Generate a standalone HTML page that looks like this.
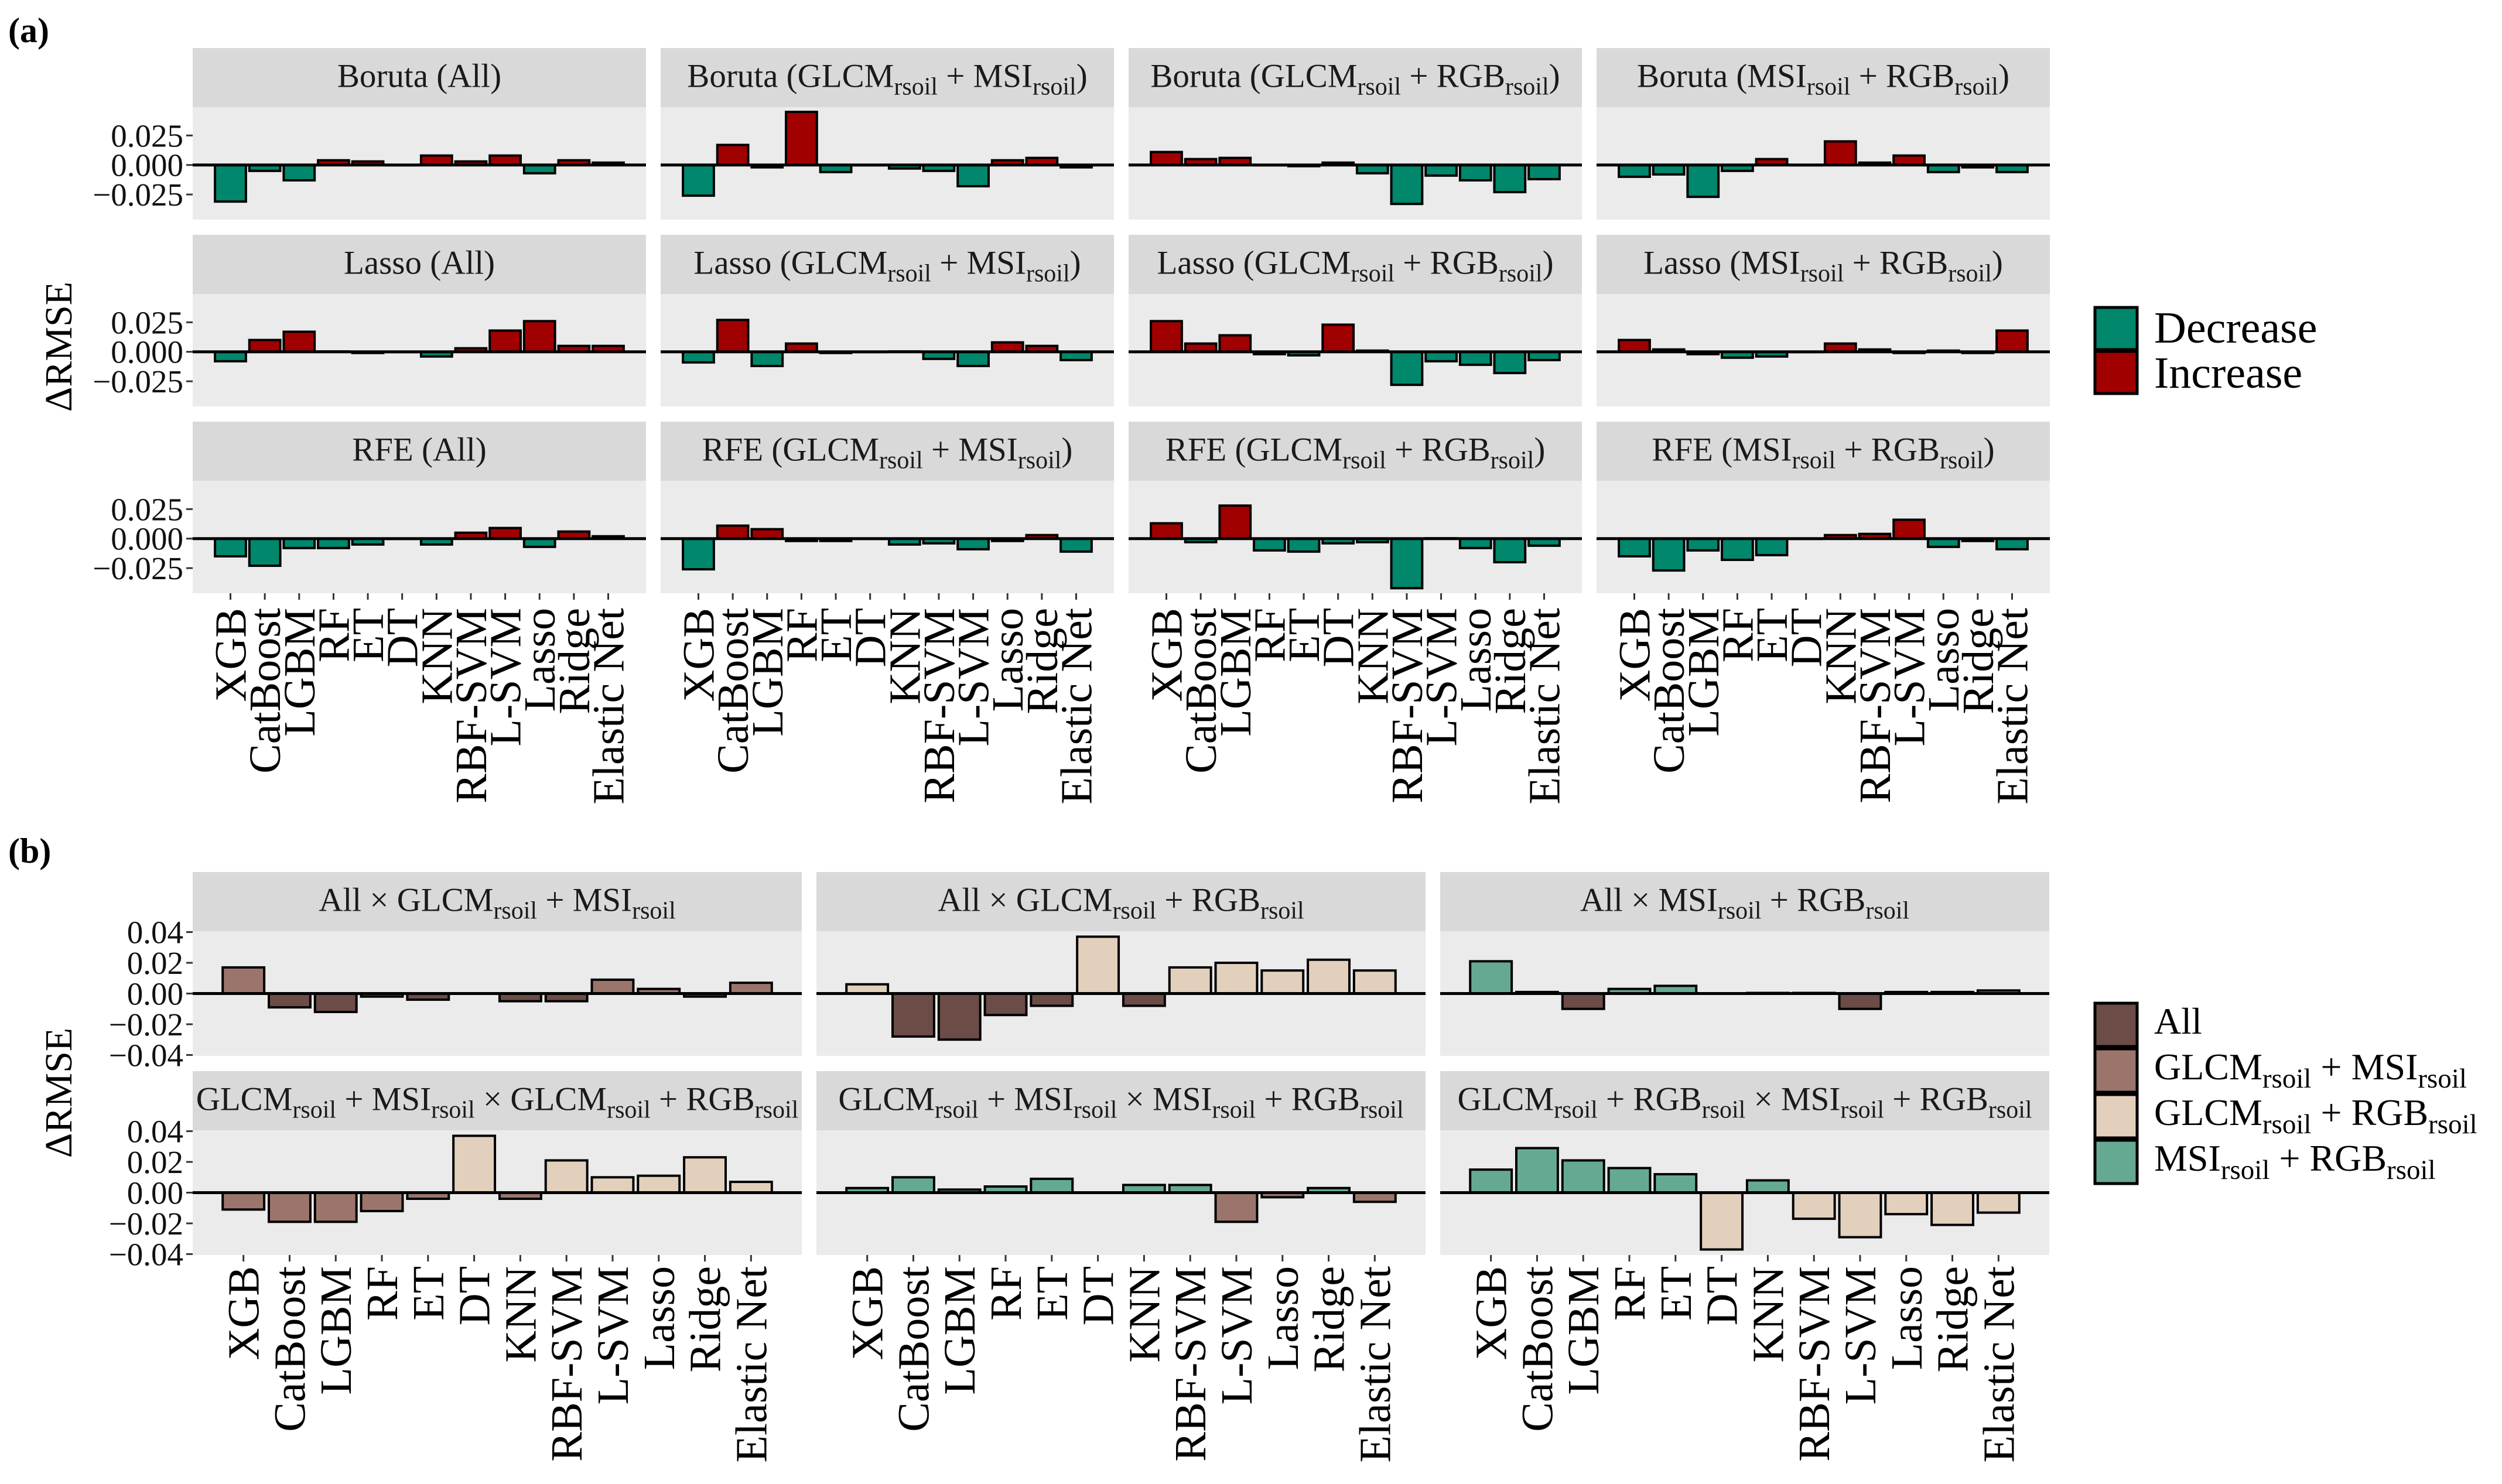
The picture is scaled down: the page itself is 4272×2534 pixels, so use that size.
<!DOCTYPE html>
<html><head><meta charset="utf-8">
<style>
html,body{margin:0;padding:0;background:#fff;}
svg{display:block;font-family:"Liberation Serif",serif;}
</style></head>
<body>
<svg id="fig" xmlns="http://www.w3.org/2000/svg" width="4272" height="2534" viewBox="0 0 4272 2534">
<rect width="4272" height="2534" fill="#fff"/>
<text x="14" y="72" font-size="60" font-weight="bold">(a)</text>
<text x="14" y="1473" font-size="60" font-weight="bold">(b)</text>
<text transform="translate(122,592) rotate(-90)" text-anchor="middle" font-size="66">ΔRMSE</text>
<text transform="translate(122,1866) rotate(-90)" text-anchor="middle" font-size="66">ΔRMSE</text>
<g id="legA">
<rect x="3577" y="525" width="72" height="72" fill="#00876c" stroke="#000" stroke-width="5"/>
<rect x="3577" y="600" width="72" height="72" fill="#a00000" stroke="#000" stroke-width="5"/>
<text x="3678" y="585" font-size="76">Decrease</text>
<text x="3678" y="662" font-size="76">Increase</text>
</g>
<g id="legB"></g>
<g id="chart"></g>
</svg>
<script>
const NS = "http://www.w3.org/2000/svg";
const categories = ["XGB","CatBoost","LGBM","RF","ET","DT","KNN","RBF-SVM","L-SVM","Lasso","Ridge","Elastic Net"];

// Panel (a) values
const borutaAll     = [-0.031,-0.005,-0.013,0.004,0.003,0,0.008,0.003,0.008,-0.007,0.004,0.002];
const borutaGlcmMsi = [-0.026,0.017,-0.002,0.045,-0.006,0,-0.003,-0.005,-0.018,0.004,0.006,-0.002];
const borutaGlcmRgb = [0.011,0.005,0.006,0,-0.001,0.002,-0.007,-0.033,-0.009,-0.013,-0.023,-0.012];
const borutaMsiRgb  = [-0.010,-0.008,-0.027,-0.005,0.005,0,0.020,0.002,0.008,-0.006,-0.002,-0.006];
const lassoAll      = [-0.008,0.010,0.017,0.0003,-0.001,0,-0.004,0.003,0.018,0.026,0.005,0.005];
const lassoGlcmMsi  = [-0.009,0.027,-0.012,0.007,-0.001,0,0.0003,-0.006,-0.012,0.008,0.005,-0.007];
const lassoGlcmRgb  = [0.026,0.007,0.014,-0.002,-0.003,0.023,0.001,-0.028,-0.008,-0.011,-0.018,-0.007];
const lassoMsiRgb   = [0.010,0.002,-0.002,-0.005,-0.004,0,0.007,0.002,-0.001,0.001,-0.001,0.018];
const rfeAll        = [-0.015,-0.023,-0.008,-0.008,-0.005,0,-0.005,0.005,0.009,-0.007,0.006,0.002];
const rfeGlcmMsi    = [-0.026,0.011,0.008,-0.002,-0.002,0,-0.005,-0.004,-0.009,-0.002,0.003,-0.011];
const rfeGlcmRgb    = [0.013,-0.003,0.028,-0.010,-0.011,-0.004,-0.003,-0.042,0.0003,-0.008,-0.020,-0.006];
const rfeMsiRgb     = [-0.015,-0.027,-0.010,-0.018,-0.014,0,0.003,0.004,0.016,-0.007,-0.002,-0.009];

// Panel (b) values
const allVsGlcmMsi     = [0.017,-0.009,-0.012,-0.002,-0.004,0,-0.005,-0.005,0.009,0.003,-0.002,0.007];
const allVsGlcmRgb     = [0.006,-0.028,-0.030,-0.014,-0.008,0.037,-0.008,0.017,0.020,0.015,0.022,0.015];
const allVsMsiRgb      = [0.021,0.001,-0.010,0.003,0.005,0,0.0004,0.0004,-0.010,0.001,0.001,0.002];
const glcmMsiVsGlcmRgb = [-0.011,-0.019,-0.019,-0.012,-0.004,0.037,-0.004,0.021,0.010,0.011,0.023,0.007];
const glcmMsiVsMsiRgb  = [0.003,0.010,0.002,0.004,0.009,0,0.005,0.005,-0.019,-0.003,0.003,-0.006];
const glcmRgbVsMsiRgb  = [0.015,0.029,0.021,0.016,0.012,-0.037,0.008,-0.017,-0.029,-0.014,-0.021,-0.013];

const aTicks = [-0.025, 0, 0.025];
const aTickLabels = ["−0.025","0.000","0.025"];
const bTicks = [-0.04,-0.02,0,0.02,0.04];
const bTickLabels = ["−0.04","−0.02","0.00","0.02","0.04"];

const aTitles = [
 ["Boruta (All)","Boruta (GLCM{rsoil} + MSI{rsoil})","Boruta (GLCM{rsoil} + RGB{rsoil})","Boruta (MSI{rsoil} + RGB{rsoil})"],
 ["Lasso (All)","Lasso (GLCM{rsoil} + MSI{rsoil})","Lasso (GLCM{rsoil} + RGB{rsoil})","Lasso (MSI{rsoil} + RGB{rsoil})"],
 ["RFE (All)","RFE (GLCM{rsoil} + MSI{rsoil})","RFE (GLCM{rsoil} + RGB{rsoil})","RFE (MSI{rsoil} + RGB{rsoil})"]];
const aData = [[borutaAll,borutaGlcmMsi,borutaGlcmRgb,borutaMsiRgb],[lassoAll,lassoGlcmMsi,lassoGlcmRgb,lassoMsiRgb],[rfeAll,rfeGlcmMsi,rfeGlcmRgb,rfeMsiRgb]];
const bTitles = [
 ["All × GLCM{rsoil} + MSI{rsoil}","All × GLCM{rsoil} + RGB{rsoil}","All × MSI{rsoil} + RGB{rsoil}"],
 ["GLCM{rsoil} + MSI{rsoil} × GLCM{rsoil} + RGB{rsoil}","GLCM{rsoil} + MSI{rsoil} × MSI{rsoil} + RGB{rsoil}","GLCM{rsoil} + RGB{rsoil} × MSI{rsoil} + RGB{rsoil}"]];
const bData = [[allVsGlcmMsi,allVsGlcmRgb,allVsMsiRgb],[glcmMsiVsGlcmRgb,glcmMsiVsMsiRgb,glcmRgbVsMsiRgb]];
// group index [negative, positive]
const bGroups = [[[0,1],[0,2],[0,3]],[[1,2],[1,3],[2,3]]];
const groupNames = ["All","GLCM{rsoil} + MSI{rsoil}","GLCM{rsoil} + RGB{rsoil}","MSI{rsoil} + RGB{rsoil}"];
const groupColors = ["#6b4c46","#9b756b","#e3d0bc","#66a993"];

const chart = document.getElementById('chart');
function mk(tag, attrs, parent){
  const e = document.createElementNS(NS, tag);
  for (const k in attrs) e.setAttribute(k, attrs[k]);
  (parent||chart).appendChild(e);
  return e;
}
function richText(el, str, size){
  const parts = str.split(/(\{[^}]*\})/);
  for (const p of parts){
    if (!p) continue;
    const t = document.createElementNS(NS,'tspan');
    if (p[0]==='{'){
      t.textContent = p.slice(1,-1);
      t.setAttribute('font-size', Math.round(size*0.74));
      t.setAttribute('baseline-shift', '-30%');
    } else t.textContent = p;
    el.appendChild(t);
  }
}

function panel(px, py, w, sh, ph, title, vals, ylo, yhi, ticks, tickLabels, colorFn, showY, showX, xLabY, name){
  const g = mk('g', {});
  
  
  const strip = mk('rect', {x:px, y:py, width:w, height:sh, fill:'#d9d9d9'}, g);
  
  
  const st = mk('text', {x:px+w/2, y:py+sh/2+16, 'text-anchor':'middle', 'font-size':57, fill:'#1a1a1a'}, g);
  
  
  richText(st, title, 57);
  const top = py+sh, bot = top+ph;
  const bg = mk('rect', {x:px, y:top, width:w, height:ph, fill:'#ebebeb'}, g);
  
  
  const yS = v => bot - (v-ylo)/(yhi-ylo)*ph;
  const unit = w/(categories.length + 1.2);
  const xS = i => px + unit*(0.6 + i + 0.5);
  const bw = unit*0.9;
  for (let i=0;i<vals.length;i++){
    const v = vals[i];
    const y0 = yS(0), y1 = yS(v);
    const b = mk('rect', {x:xS(i)-bw/2, y:Math.min(y0,y1), width:bw, height:Math.max(Math.abs(y1-y0),0.5), fill:colorFn(v), stroke:'#000', 'stroke-width':4}, g);
    
    
  }
  const zl = mk('line', {x1:px, x2:px+w, y1:yS(0), y2:yS(0), stroke:'#000', 'stroke-width':5}, g);
  
  
  if (showY){
    for (let k=0;k<ticks.length;k++){
      const y = yS(ticks[k]);
      const tk = mk('line', {x1:px-11, x2:px, y1:y, y2:y, stroke:'#333', 'stroke-width':3}, g);
      
      
      const tl = mk('text', {x:px-16, y:y+19, 'text-anchor':'end', 'font-size':55, fill:'#111'}, g);
      
      
      tl.textContent = tickLabels[k];
    }
  }
  if (showX){
    for (let i=0;i<categories.length;i++){
      const x = xS(i);
      const tk = mk('line', {x1:x, x2:x, y1:bot, y2:bot+11, stroke:'#333', 'stroke-width':3}, g);
      
      
      const tl = mk('text', {transform:`translate(${x+26},${xLabY}) rotate(-90)`, 'text-anchor':'end', 'font-size':76, fill:'#000'}, g);
      
      
      tl.textContent = categories[i];
    }
  }
}

// Panel (a)
const aX = [329,1128,1927,2726], aW = 774;
const aRowTop = [82,401,720], aSH = 101, aPH = 192;
for (let r=0;r<3;r++) for (let c=0;c<4;c++){
  panel(aX[c], aRowTop[r], aW, aSH, aPH, aTitles[r][c], aData[r][c], -0.0463, 0.0490, aTicks, aTickLabels,
    v => v < 0 ? '#00876c' : '#a00000', c===0, r===2, 1038, 'panel-a-r'+(r+1)+'-c'+(c+1));
}
// Panel (b)
const bX = [329,1394,2459], bW = 1040;
const bRowTop = [1489,1829], bSH = 101, bPH = 213;
for (let r=0;r<2;r++) for (let c=0;c<3;c++){
  const grp = bGroups[r][c];
  panel(bX[c], bRowTop[r], bW, bSH, bPH, bTitles[r][c], bData[r][c], -0.0406, 0.0406, bTicks, bTickLabels,
    v => v < 0 ? groupColors[grp[0]] : groupColors[grp[1]], c===0, r===1, 2162, 'panel-b-r'+(r+1)+'-c'+(c+1));
}
// Legend (b)
const legB = document.getElementById('legB');
for (let i=0;i<4;i++){
  const y = 1713 + i*78;
  const k = mk('rect', {x:3577, y:y, width:72, height:74, fill:groupColors[i], stroke:'#000', 'stroke-width':5}, legB);
  
  
  const t = mk('text', {x:3678, y:y+52, 'font-size':64}, legB);
  
  
  richText(t, groupNames[i], 64);
}
</script>
</body></html>
